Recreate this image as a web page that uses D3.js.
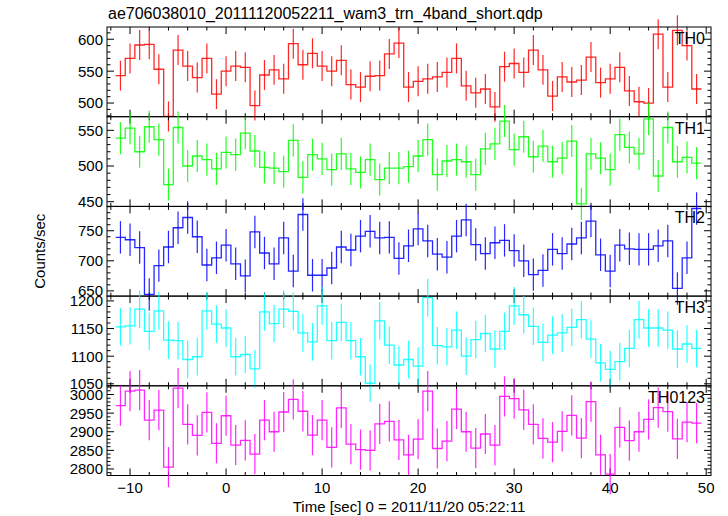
<!DOCTYPE html>
<html><head><meta charset="utf-8">
<script src="https://cdn.jsdelivr.net/npm/d3@7"></script>
<style>body{margin:0;background:#fff}svg{display:block}text{font-family:"Liberation Sans",Arial,sans-serif}</style>
</head><body>
<script>
const times = d3.range(-11, 50); // bin centres, 1-s bins
const th0 = [543,570,591,592,553,479,583,558,540,570,514,550,558,556,496,544,552,538,593,560,578,558,550,567,529,525,542,543,577,594,525,534,538,541,548,570,527,516,522,494,557,562,548,583,552,511,541,533,536,572,532,538,556,519,502,500,608,525,614,590,522];
const th1 = [539,553,520,555,537,474,554,500,514,509,496,519,516,546,521,498,497,492,536,484,516,510,495,517,496,491,509,481,497,497,499,514,537,488,507,509,506,488,524,531,563,523,541,513,528,506,511,535,447,517,511,495,544,526,517,566,486,554,506,512,504];
const th2 = [739,735,722,644,692,723,755,772,740,693,705,726,695,675,748,713,695,738,683,777,676,676,688,723,718,741,749,738,739,704,725,753,733,711,706,741,768,727,712,730,734,717,700,677,684,719,712,728,738,766,710,683,726,720,719,719,725,733,654,705,787];
const th3 = [1153,1155,1185,1145,1182,1129,1128,1094,1099,1182,1158,1151,1099,1103,1077,1180,1159,1185,1181,1142,1126,1191,1128,1161,1128,1099,1051,1164,1120,1084,1094,1082,1206,1119,1117,1147,1100,1130,1141,1113,1145,1191,1175,1154,1125,1138,1142,1152,1166,1131,1088,1076,1090,1114,1166,1151,1151,1147,1113,1122,1114];
const th0123 = [2970,3009,3012,2931,2958,2805,3017,2920,2890,2952,2869,2943,2864,2877,2840,2931,2900,2953,2987,2955,2891,2931,2858,2964,2867,2852,2850,2921,2928,2878,2838,2880,3009,2855,2875,2961,2900,2856,2894,2864,2995,2989,2959,2920,2882,2872,2901,2944,2883,2981,2838,2786,2912,2876,2900,2933,2965,2954,2881,2926,2923];
const errs = [23.5, 22.5, 27, 34, 54];
const names = ["TH0","TH1","TH2","TH3","TH0123"];
const colors = ["#ff0000","#00ff00","#0000ff","#00ffff","#ff00ff"];
const yDomains = [[478.6,619.2],[443.4,569.1],[641.3,790.5],[1046.4,1208.7],[2782.5,3023.4]];
const yTicks = [[500,550,600],[450,500,550],[650,700,750],[1050,1100,1150,1200],[2800,2850,2900,2950,3000]];
const xTicks = [-10,0,10,20,30,40,50];
const series = [th0, th1, th2, th3, th0123];
const title = "ae706038010_20111120052211_wam3_trn_4band_short.qdp";
const xLabel = "Time [sec] 0 = 2011/11/20 05:22:11";
const yLabel = "Counts/sec";

const W = 728, H = 516;
const L = 107, R = 711, T = 27, B = 475.5;
const ph = (B - T) / 5;
const svg = d3.select("body").append("svg").attr("width", W).attr("height", H);
const x = d3.scaleLinear().domain([-12.4, 50.5]).range([L, R]);

svg.append("text").attr("x", 108).attr("y", 19).attr("font-size", 16).text(title);

series.forEach((vals, i) => {
  const top = T + i * ph, bot = top + ph;
  const y = d3.scaleLinear().domain(yDomains[i]).range([bot, top]);
  const g = svg.append("g");
  g.append("rect").attr("x", L).attr("y", top).attr("width", R - L).attr("height", ph)
    .attr("fill", "none").attr("stroke", "#000").attr("stroke-width", 1);
  const xMinor = d3.range(-12, 51, 2);
  xMinor.forEach(v => {
    const major = v % 10 === 0;
    const len = major ? 7 : 3.5;
    const px = x(v);
    g.append("line").attr("x1", px).attr("x2", px).attr("y1", bot).attr("y2", bot - len).attr("stroke", "#000");
    g.append("line").attr("x1", px).attr("x2", px).attr("y1", top).attr("y2", top + len).attr("stroke", "#000");
  });
  const [d0, d1] = yDomains[i];
  const yMinor = d3.range(Math.ceil(d0 / 10) * 10, d1, 10);
  yMinor.forEach(v => {
    const major = v % 50 === 0;
    const len = major ? 7 : 3.5;
    const py = y(v);
    g.append("line").attr("x1", L).attr("x2", L + len).attr("y1", py).attr("y2", py).attr("stroke", "#000");
    g.append("line").attr("x1", R).attr("x2", R - len).attr("y1", py).attr("y2", py).attr("stroke", "#000");
  });
  yTicks[i].forEach(v => {
    g.append("text").attr("x", L - 4).attr("y", y(v)).attr("dy", "0.36em")
      .attr("text-anchor", "end").attr("font-size", 15).text(v);
  });
  const pts = vals.map((v, k) => [times[k] - 0.5, v]);
  pts.push([times[times.length - 1] + 0.5, vals[vals.length - 1]]);
  const line = d3.line().x(d => x(d[0])).y(d => y(d[1])).curve(d3.curveStepAfter);
  g.append("path").attr("d", line(pts)).attr("fill", "none")
    .attr("stroke", colors[i]).attr("stroke-width", 1.3).attr("stroke-opacity", 0.85);
  vals.forEach((v, k) => {
    g.append("line").attr("x1", x(times[k])).attr("x2", x(times[k]))
      .attr("y1", y(v - errs[i])).attr("y2", y(v + errs[i]))
      .attr("stroke", colors[i]).attr("stroke-width", 1.2).attr("stroke-opacity", 0.85);
  });
  g.append("text").attr("x", R - 6).attr("y", top + 17).attr("text-anchor", "end")
    .attr("font-size", 16).text(names[i]);
});

xTicks.forEach(v => {
  svg.append("text").attr("x", x(v)).attr("y", 493).attr("text-anchor", "middle")
    .attr("font-size", 15).text(v < 0 ? "\u2212" + Math.abs(v) : v);
});
svg.append("text").attr("x", (L + R) / 2).attr("y", 512).attr("text-anchor", "middle")
  .attr("font-size", 15).text(xLabel);
svg.append("text").attr("transform", `translate(45,${(T + B) / 2}) rotate(-90)`)
  .attr("text-anchor", "middle").attr("font-size", 15).text(yLabel);
</script>
</body></html>
